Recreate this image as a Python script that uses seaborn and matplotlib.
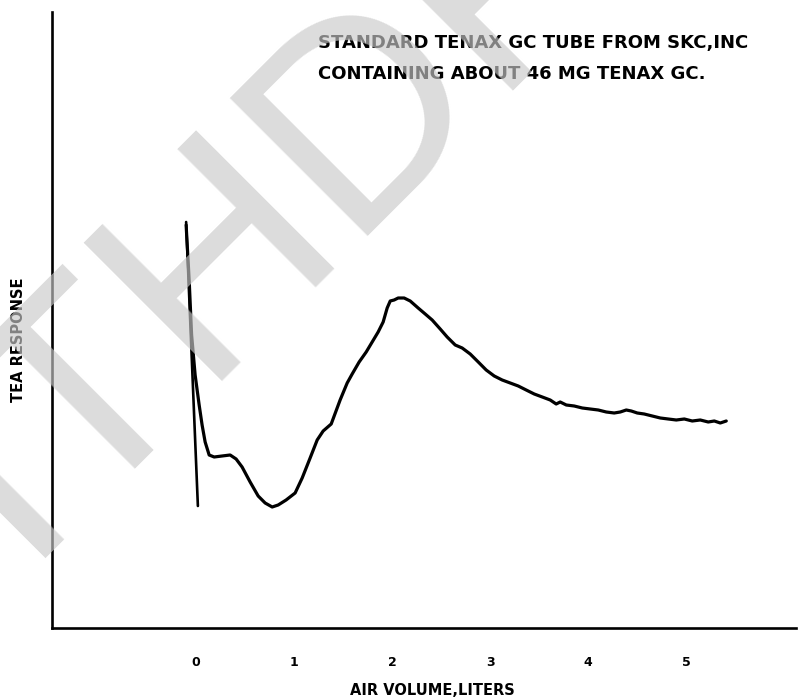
import numpy as np
import pandas as pd
import seaborn as sns
from matplotlib import pyplot as plt

# TEA response trace (arbitrary units)
volume = [-0.102, -0.071, -0.046, -0.010, 0.031, 0.061, 0.092, 0.133, 0.184, 0.265,
          0.347, 0.408, 0.469, 0.551, 0.633, 0.704, 0.776, 0.837, 0.918, 1.010,
          1.082, 1.163, 1.235, 1.296, 1.378, 1.469, 1.541, 1.592, 1.663, 1.735,
          1.796, 1.857, 1.908, 1.949, 1.980, 2.020, 2.061, 2.122, 2.184, 2.265,
          2.337, 2.408, 2.490, 2.561, 2.643, 2.714, 2.796, 2.878, 2.959, 3.041,
          3.122, 3.204, 3.286, 3.367, 3.449, 3.531, 3.612, 3.673, 3.714, 3.776,
          3.857, 3.939, 4.020, 4.102, 4.184, 4.265, 4.327, 4.388, 4.439, 4.500,
          4.571, 4.653, 4.735, 4.816, 4.898, 4.980, 5.061, 5.143, 5.224, 5.286,
          5.347, 5.408]
response = [40.3, 34.8, 29.3, 25.3, 22.3, 20.3, 18.6, 17.3, 17.1, 17.2,
            17.3, 16.9, 16.1, 14.6, 13.2, 12.5, 12.1, 12.3, 12.8, 13.5,
            15.0, 17.0, 18.8, 19.7, 20.4, 22.8, 24.5, 25.4, 26.6, 27.6,
            28.6, 29.6, 30.6, 32.0, 32.7, 32.8, 33.0, 33.0, 32.7, 32.0,
            31.4, 30.8, 29.9, 29.1, 28.3, 28.0, 27.4, 26.6, 25.8, 25.2,
            24.8, 24.5, 24.2, 23.8, 23.4, 23.1, 22.8, 22.4, 22.6, 22.3,
            22.2, 22.0, 21.9, 21.8, 21.6, 21.5, 21.6, 21.8, 21.7, 21.5,
            21.4, 21.2, 21.0, 20.9, 20.8, 20.9, 20.7, 20.8, 20.6, 20.7,
            20.5, 20.7]

# steep pen stroke at the injection point
spike_volume = [-0.102, 0.018]
spike_response = [40.6, 12.2]

ticks = [0, 1, 2, 3, 4, 5]
tick_labels = ['0', '1', '2', '3', '4', '5']
note_lines = ['STANDARD TENAX GC TUBE FROM SKC,INC',
              'CONTAINING ABOUT 46 MG TENAX GC.']
watermark = 'WITHDRAWN'

sns.set_style('white')
plt.rcParams['font.family'] = ['DejaVu Sans']
plt.rcParams['text.color'] = 'black'
plt.rcParams['axes.labelcolor'] = 'black'
plt.rcParams['xtick.color'] = 'black'

fig = plt.figure(figsize=(8.09, 6.98), dpi=100)
ax = fig.add_axes([0.0643, 0.1003, 0.9197, 0.8825])

trace = pd.DataFrame({'volume': volume, 'response': response})
sns.lineplot(data=trace, x='volume', y='response', ax=ax, color='black',
             linewidth=2.3, sort=False, estimator=None)
sns.lineplot(x=spike_volume, y=spike_response, ax=ax, color='black',
             linewidth=1.9, sort=False, estimator=None)

ax.set_xlim(-1.47, 6.12)
ax.set_ylim(0, 61.6)
ax.set_xticks(ticks)
ax.set_xticklabels(tick_labels, fontsize=9, fontweight='bold')
ax.tick_params(axis='x', length=0, pad=20)
ax.set_yticks([])
for s in ['top', 'right']:
    ax.spines[s].set_visible(False)
for s in ['left', 'bottom']:
    ax.spines[s].set_linewidth(1.9)
    ax.spines[s].set_color('black')

ax.set_xlabel('AIR VOLUME,LITERS', fontsize=10.5, fontweight='bold')
ax.xaxis.set_label_coords(0.511, -0.089)
ax.set_ylabel('TEA RESPONSE', fontsize=10.5, fontweight='bold')
ax.yaxis.set_label_coords(-0.035, 0.468)

fig.text(0.393, 0.938, note_lines[0], fontsize=13, fontweight='bold', va='center')
fig.text(0.393, 0.894, note_lines[1], fontsize=13, fontweight='bold', va='center')

# grey diagonal stamp over the chart
fig.text(-0.200, -0.096, watermark, rotation=45, rotation_mode='anchor',
         ha='left', va='baseline', fontsize=205, family='Liberation Sans',
         color='#c9c9c9', alpha=0.65, zorder=10)

fig.savefig('out.png', dpi=100)
